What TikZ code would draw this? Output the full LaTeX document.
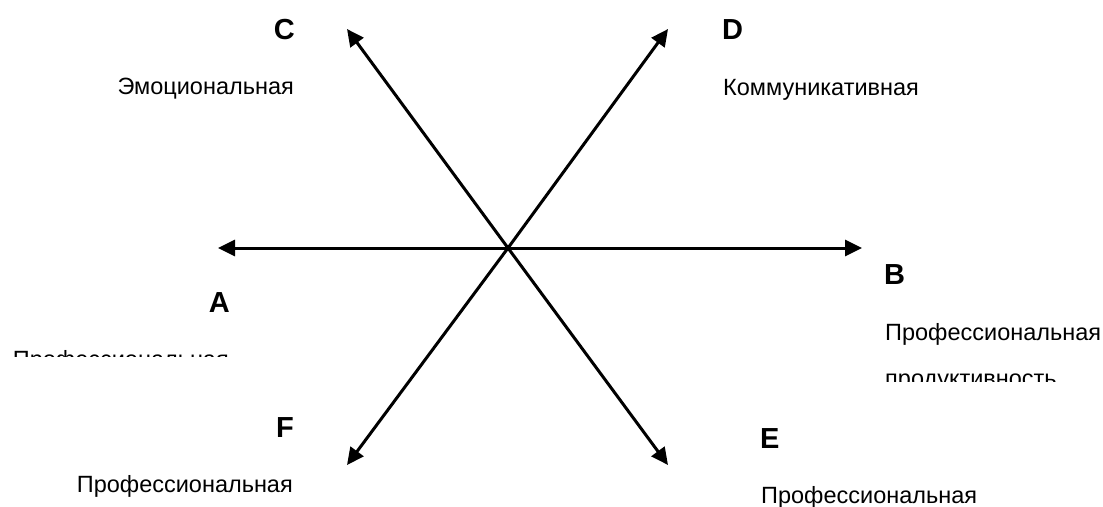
\documentclass[tikz,border=0pt]{standalone}
\usepackage{fontspec}
\setmainfont{Liberation Sans}
\usetikzlibrary{arrows.meta}
\tikzset{
  axis arrow/.style={line width=3pt, -{Triangle[length=17pt,width=16pt]}},
  pole/.style={font=\fontsize{29}{34}\selectfont\bfseries, inner sep=0pt},
  caption/.style={font=\fontsize{23.5}{28}\selectfont, inner sep=0pt}
}
\begin{document}
\begin{tikzpicture}[x=1pt,y=-1pt]
    \useasboundingbox (0,0) rectangle (1103,506);

    % Centre and arrow ends
    \coordinate (O) at (508,248);
    \coordinate (endA) at (218,248);
    \coordinate (endB) at (862,248);
    \coordinate (endC) at (347,29);
    \coordinate (endD) at (668,29);
    \coordinate (endE) at (668,465);
    \coordinate (endF) at (347,465);

    \foreach \e in {endA,endB,endC,endD,endE,endF} {
        \draw[axis arrow] (O) -- (\e);
    }

    % Poles and their captions
    \node[pole, anchor=base east] (poleC) at (295,39) {C};
    \node[caption, anchor=base east] (capC) at (294,94) {Эмоциональная};

    \node[pole, anchor=base west] (poleD) at (722,39) {D};
    \node[caption, anchor=base west] (capD) at (723,95) {Коммуникативная};

    \node[pole, anchor=base east] (poleA) at (230,312) {A};
    \node[pole, anchor=base west] (poleB) at (884,284) {B};
    \node[caption, anchor=base west] (capB) at (885,340) {Профессиональная};

    \node[pole, anchor=base east] (poleF) at (294,437) {F};
    \node[caption, anchor=base east] (capF) at (293,492) {Профессиональная};

    \node[pole, anchor=base west] (poleE) at (760,448) {E};
    \node[caption, anchor=base west] (capE) at (761,503) {Профессиональная};

    % Captions cut off by their boxes
    \begin{scope}
        \clip (0,0) rectangle (1103,356);
        \node[caption, anchor=base east] (capA) at (229,367) {Профессиональная};
    \end{scope}
    \begin{scope}
        \clip (0,0) rectangle (1103,381);
        \node[caption, anchor=base west] (capB2) at (885,386) {продуктивность};
    \end{scope}
\end{tikzpicture}
\end{document}
